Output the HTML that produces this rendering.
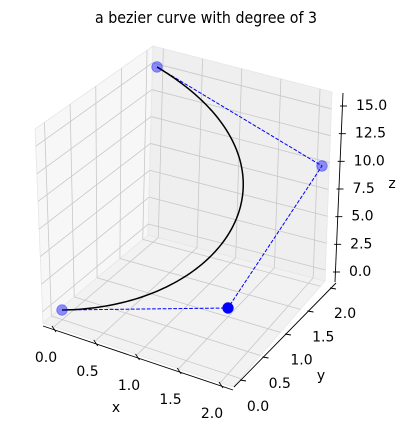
<!DOCTYPE html>
<html><head><meta charset="utf-8"><style>
html,body{margin:0;padding:0;background:#fff;}
svg{display:block;font-family:"DejaVu Sans","Liberation Sans",sans-serif;}
</style></head><body>
<svg id="chart" width="406" height="431" viewBox="0 0 406 431" xmlns="http://www.w3.org/2000/svg">
<text x="206" y="23" font-size="16" text-anchor="middle" textLength="222" lengthAdjust="spacingAndGlyphs">a bezier curve with degree of 3</text>
<g id="panes"></g>
<g id="grid"></g>
<g id="axes"></g>
<g id="series"></g>
</svg>
<script>
const ctrlX = [0, 1.5, 2, 0];
const ctrlY = [0, 1, 2, 2];
const ctrlZ = [0, 0, 10, 15];
const xTicks = [0, 0.5, 1, 1.5, 2];
const yTicks = [0, 0.5, 1, 1.5, 2];
const zTicks = [0, 2.5, 5, 7.5, 10, 12.5, 15];
const xTickLabels = ["0.0","0.5","1.0","1.5","2.0"];
const yTickLabels = ["0.0","0.5","1.0","1.5","2.0"];
const zTickLabels = ["0.0","2.5","5.0","7.5","10.0","12.5","15.0"];

const NS = "http://www.w3.org/2000/svg";
function mk(tag, attrs, parent){const e=document.createElementNS(NS,tag);for(const k in attrs)e.setAttribute(k,attrs[k]);parent.appendChild(e);return e;}
const O=[62,310], EX=[86,19.33], EY=[37,-31], EZ=[1.4,-12.07];
function proj(x,y,z){return [O[0]+x*EX[0]+y*EY[0]+z*EZ[0], O[1]+x*EX[1]+y*EY[1]+z*EZ[1]];}
const L=[43,323], F=[233,387], R=[325,281], K=[148,235];
const LT=[35,129], KT=[153,46], RT=[332,92];
function lerp(a,b,t){return [a[0]+(b[0]-a[0])*t, a[1]+(b[1]-a[1])*t];}
function xf(v){return 0.058+v*0.4375;}
function yf(v){return 0.08+v*0.435;}
function zf(v){return 0.058+v*(0.853/15);}
const panes=document.getElementById('panes');
const grid=document.getElementById('grid');
const axes=document.getElementById('axes');
const series=document.getElementById('series');
function poly(pts){return pts.map(p=>p.join(',')).join(' ');}
let e;
e=mk('polygon',{points:poly([L,F,R,K]),fill:'#f2f2f2',stroke:'#e6e6e6','stroke-width':0.8},panes);

e=mk('polygon',{points:poly([L,K,KT,LT]),fill:'#f7f7f7',stroke:'#e6e6e6','stroke-width':0.8},panes);

e=mk('polygon',{points:poly([K,R,RT,KT]),fill:'#efefef',stroke:'#e6e6e6','stroke-width':0.8},panes);

function gl(a,b,name){const l=mk('line',{x1:a[0],y1:a[1],x2:b[0],y2:b[1],stroke:'#c8c8c8','stroke-width':0.8},grid);

}
xTicks.forEach(v=>{const t=xf(v);
 gl(lerp(L,F,t),lerp(K,R,t),'grid-x-floor');
 gl(lerp(K,R,t),lerp(KT,RT,t),'grid-x-back');});
yTicks.forEach(v=>{const t=yf(v);
 gl(lerp(L,K,t),lerp(F,R,t),'grid-y-floor');
 gl(lerp(L,K,t),lerp(LT,KT,t),'grid-y-left');});
zTicks.forEach(v=>{const t=zf(v);
 gl(lerp(L,LT,t),lerp(K,KT,t),'grid-z-left');
 gl(lerp(K,KT,t),lerp(R,RT,t),'grid-z-back');});
function al(a,b,name){const l=mk('line',{x1:a[0],y1:a[1],x2:b[0],y2:b[1],stroke:'#000','stroke-width':0.9},axes);

}
function tx(x,y,s,name,anchor){const t=mk('text',{x:x,y:y,'font-size':14,'text-anchor':anchor||'middle','dominant-baseline':'central'},axes);t.textContent=s;

}
al([43,326],[233,390],'x-axis-line');
xTicks.forEach((v,i)=>{const p=lerp([54,328],[221,384],v/2);
 al([p[0]-2,p[1]-2],[p[0]+2,p[1]+4],'x-tick');
 tx(46+v*83,358+v*28,xTickLabels[i],'x-tick-label');});
tx(116,408,'x','x-axis-title');
al([234,387],[336,283],'y-axis-line');
yTicks.forEach((v,i)=>{const p=lerp([242,380],[332,288],v/2);
 al([p[0]-2,p[1]],[p[0]+4,p[1]+1],'y-tick');
 tx(258+v*43.5,407-v*46.5,yTickLabels[i],'y-tick-label');});
tx(321,376,'y','y-axis-title');
al([335,282],[343,93],'z-axis-line');
zTicks.forEach((v,i)=>{const y=272-v*(166/15);const x=336+v*(7/15);
 al([x-3,y],[x+4,y],'z-tick');
 tx(x+13,y,zTickLabels[i],'z-tick-label','start');});
tx(392,184,'z','z-axis-title');
const cp=ctrlX.map((x,i)=>proj(x,ctrlY[i],ctrlZ[i]));
e=mk('polyline',{points:poly(cp),fill:'none',stroke:'#0000ff','stroke-width':1,'stroke-dasharray':'3.7,1.6'},series);

const pts=[];
for(let i=0;i<=100;i++){const t=i/100,u=1-t;const w=[u*u*u,3*u*u*t,3*u*t*t,t*t*t];
 let x=0,y=0,z=0;for(let k=0;k<4;k++){x+=w[k]*ctrlX[k];y+=w[k]*ctrlY[k];z+=w[k]*ctrlZ[k];}
 pts.push(proj(x,y,z));}
e=mk('polyline',{points:poly(pts),fill:'none',stroke:'#000','stroke-width':1.5},series);

const depth=ctrlX.map((x,i)=>x-ctrlY[i]);
cp.forEach((p,i)=>{const op=depth[i]>0.2?1:0.42;
 const c=mk('circle',{cx:p[0],cy:p[1],r:5.3,fill:'#0000ff','fill-opacity':op,stroke:'#0000ff','stroke-opacity':op*0.9,'stroke-width':0.8},series);
 
 });
</script>
</body></html>
